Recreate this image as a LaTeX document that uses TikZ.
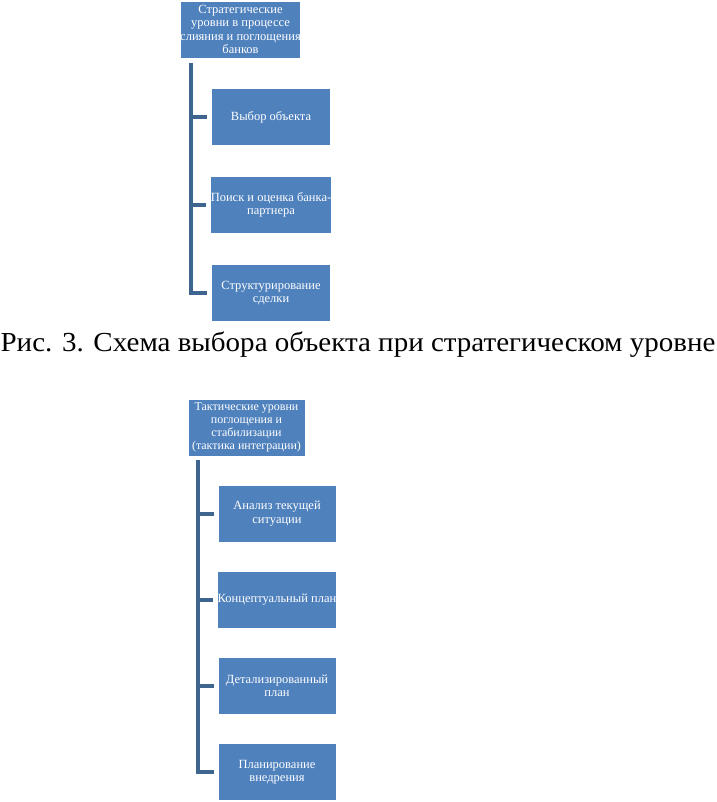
\documentclass[tikz,border=0pt]{standalone}
\usepackage{fontspec}
\setmainfont{Liberation Serif}
\definecolor{boxblue}{HTML}{4F81BD}
\definecolor{linkblue}{HTML}{3E6490}
\begin{document}
\begin{tikzpicture}[x=1pt,y=-1pt,
  box/.style={rectangle, fill=boxblue, draw=white, line width=0.6pt, text=white,
    align=center, inner sep=0pt, font=\fontsize{12.5}{13.4}\selectfont},
  rootbox/.style={box, minimum width=119pt, minimum height=57pt},
  childbox/.style={box, minimum width=119pt, minimum height=57pt},
  link/.style={draw=linkblue, line width=4pt, line join=miter}]
\useasboundingbox (0,0) rectangle (716,802);

% ---- top diagram ----
\node[rootbox] (r1) at (240.5,29.5) {Стратегические\\уровни в процессе\\слияния и поглощения\\банков};
\node[childbox] (a1) at (271,117) {Выбор объекта};
\node[childbox] (a2) at (271,205) {Поиск и оценка банка-\\партнера};
\node[childbox] (a3) at (271,293) {Структурирование\\сделки};
\coordinate (s1) at (190.5,63);
\draw[link] (s1) -- (s1 |- a3.west) -- ([xshift=-4pt]a3.west);
\draw[link] (s1 |- a1.west) -- ([xshift=-4pt]a1.west);
\draw[link] (s1 |- a2.west) -- ([xshift=-4pt]a2.west);

% ---- caption ----
\node[font=\fontsize{27.5}{32}\selectfont, inner sep=0pt, anchor=base] (cap) at (358,351) {\scalebox{1.055}[1]{Рис. 3. Схема выбора объекта при стратегическом уровне}};

% ---- bottom diagram ----
\node[rootbox, minimum width=117pt, font=\fontsize{12}{12.8}\selectfont] (r2) at (246.5,427.5) {Тактические уровни\\поглощения и\\стабилизации\\(тактика интеграции)};
\node[childbox, minimum width=118pt] (b1) at (277,513.5) {Анализ текущей\\ситуации};
\node[childbox, minimum width=118pt] (b2) at (277,600) {Концептуальный план};
\node[childbox, minimum width=118pt] (b3) at (277,686) {Детализированный\\план};
\node[childbox, minimum width=118pt] (b4) at (277,772) {Планирование\\внедрения};
\coordinate (s2) at (198,460);
\draw[link] (s2) -- (s2 |- b4.west) -- ([xshift=-4pt]b4.west);
\draw[link] (s2 |- b1.west) -- ([xshift=-4pt]b1.west);
\draw[link] (s2 |- b2.west) -- ([xshift=-4pt]b2.west);
\draw[link] (s2 |- b3.west) -- ([xshift=-4pt]b3.west);
\end{tikzpicture}
\end{document}
